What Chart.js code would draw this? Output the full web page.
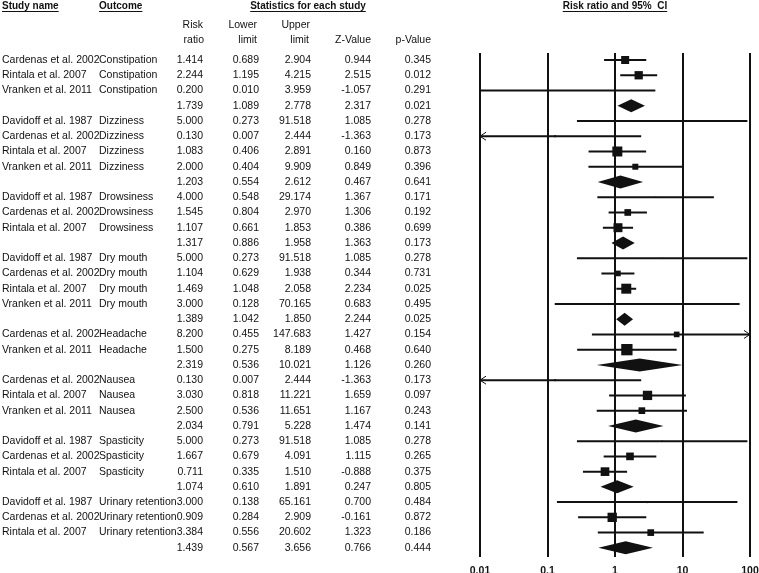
<!DOCTYPE html>
<html>
<head>
<meta charset="utf-8">
<script src="https://cdn.jsdelivr.net/npm/chart.js@4"></script>
<style>
  html, body { margin: 0; padding: 0; background: #fff; }
</style>
</head>
<body>
<canvas id="forest" width="759" height="573"></canvas>
<script>
// one entry per row, '' study name = summary row for the outcome
const studyNames = [
  'Cardenas et al. 2002', 'Rintala et al. 2007', 'Vranken et al. 2011', '',
  'Davidoff et al. 1987', 'Cardenas et al. 2002', 'Rintala et al. 2007', 'Vranken et al. 2011', '',
  'Davidoff et al. 1987', 'Cardenas et al. 2002', 'Rintala et al. 2007', '',
  'Davidoff et al. 1987', 'Cardenas et al. 2002', 'Rintala et al. 2007', 'Vranken et al. 2011', '',
  'Cardenas et al. 2002', 'Vranken et al. 2011', '',
  'Cardenas et al. 2002', 'Rintala et al. 2007', 'Vranken et al. 2011', '',
  'Davidoff et al. 1987', 'Cardenas et al. 2002', 'Rintala et al. 2007', '',
  'Davidoff et al. 1987', 'Cardenas et al. 2002', 'Rintala et al. 2007', ''
];
const outcomes = [
  'Constipation', 'Constipation', 'Constipation', '',
  'Dizziness', 'Dizziness', 'Dizziness', 'Dizziness', '',
  'Drowsiness', 'Drowsiness', 'Drowsiness', '',
  'Dry mouth', 'Dry mouth', 'Dry mouth', 'Dry mouth', '',
  'Headache', 'Headache', '',
  'Nausea', 'Nausea', 'Nausea', '',
  'Spasticity', 'Spasticity', 'Spasticity', '',
  'Urinary retention', 'Urinary retention', 'Urinary retention', ''
];
const riskRatio = [
  1.414, 2.244, 0.200, 1.739,
  5.000, 0.130, 1.083, 2.000, 1.203,
  4.000, 1.545, 1.107, 1.317,
  5.000, 1.104, 1.469, 3.000, 1.389,
  8.200, 1.500, 2.319,
  0.130, 3.030, 2.500, 2.034,
  5.000, 1.667, 0.711, 1.074,
  3.000, 0.909, 3.384, 1.439
];
const lowerLimit = [
  0.689, 1.195, 0.010, 1.089,
  0.273, 0.007, 0.406, 0.404, 0.554,
  0.548, 0.804, 0.661, 0.886,
  0.273, 0.629, 1.048, 0.128, 1.042,
  0.455, 0.275, 0.536,
  0.007, 0.818, 0.536, 0.791,
  0.273, 0.679, 0.335, 0.610,
  0.138, 0.284, 0.556, 0.567
];
const upperLimit = [
  2.904, 4.215, 3.959, 2.778,
  91.518, 2.444, 2.891, 9.909, 2.612,
  29.174, 2.970, 1.853, 1.958,
  91.518, 1.938, 2.058, 70.165, 1.850,
  147.683, 8.189, 10.021,
  2.444, 11.221, 11.651, 5.228,
  91.518, 4.091, 1.510, 1.891,
  65.161, 2.909, 20.602, 3.656
];
const zValue = [
  0.944, 2.515, -1.057, 2.317,
  1.085, -1.363, 0.160, 0.849, 0.467,
  1.367, 1.306, 0.386, 1.363,
  1.085, 0.344, 2.234, 0.683, 2.244,
  1.427, 0.468, 1.126,
  -1.363, 1.659, 1.167, 1.474,
  1.085, 1.115, -0.888, 0.247,
  0.700, -0.161, 1.323, 0.766
];
const pValue = [
  0.345, 0.012, 0.291, 0.021,
  0.278, 0.173, 0.873, 0.396, 0.641,
  0.171, 0.192, 0.699, 0.173,
  0.278, 0.731, 0.025, 0.495, 0.025,
  0.154, 0.640, 0.260,
  0.173, 0.097, 0.243, 0.141,
  0.278, 0.265, 0.375, 0.805,
  0.484, 0.872, 0.186, 0.444
];
// relative study weights (square area)
const weights = [
  50, 54, 1, null,
  3, 3, 78, 28, null,
  1, 35, 63, null,
  1, 25, 78, 1, null,
  25, 100, null,
  3, 68, 35, null,
  1, 46, 59, null,
  3, 68, 35, null
];
const xTicks = [0.01, 0.1, 1, 10, 100];

const ink = '#111';
const bodyFont = "10.5px 'Liberation Sans', Arial, sans-serif";
const headFont = "bold 10px 'Liberation Sans', Arial, sans-serif";

const rows = riskRatio.map((v, i) => i);
const studyRows = rows.filter(i => studyNames[i] !== '');
const summaryRows = rows.filter(i => studyNames[i] === '');

const squares = studyRows.map(i => ({ x: riskRatio[i], y: i }));
const squareRadius = studyRows.map(i => 11.3 * Math.sqrt(weights[i] / 100) / 1.414);
const ciLines = [];
studyRows.forEach(i => {
  ciLines.push({ x: lowerLimit[i], y: i }, { x: upperLimit[i], y: i }, { x: null, y: null });
});

const forestPlugin = {
  id: 'forest',
  afterDatasetsDraw(chart) {
    const { ctx, chartArea } = chart;
    const xs = chart.scales.x, ys = chart.scales.y;
    ctx.save();
    ctx.fillStyle = ink;
    ctx.strokeStyle = ink;
    // summary diamonds
    summaryRows.forEach(i => {
      const py = ys.getPixelForValue(i);
      ctx.beginPath();
      ctx.moveTo(xs.getPixelForValue(lowerLimit[i]), py);
      ctx.lineTo(xs.getPixelForValue(riskRatio[i]), py - 6.5);
      ctx.lineTo(xs.getPixelForValue(upperLimit[i]), py);
      ctx.lineTo(xs.getPixelForValue(riskRatio[i]), py + 6.5);
      ctx.closePath();
      ctx.fill();
    });
    // arrows where the interval runs past the axis
    ctx.lineWidth = 1;
    studyRows.forEach(i => {
      const py = ys.getPixelForValue(i);
      if (lowerLimit[i] < xs.min) {
        ctx.beginPath();
        ctx.moveTo(chartArea.left + 6, py - 4);
        ctx.lineTo(chartArea.left, py);
        ctx.lineTo(chartArea.left + 6, py + 4);
        ctx.stroke();
      }
      if (upperLimit[i] > xs.max) {
        ctx.beginPath();
        ctx.moveTo(chartArea.right - 6, py - 4);
        ctx.lineTo(chartArea.right, py);
        ctx.lineTo(chartArea.right - 6, py + 4);
        ctx.stroke();
      }
    });
    ctx.restore();
  },
  afterDraw(chart) {
    const { ctx } = chart;
    const ys = chart.scales.y;
    ctx.save();
    ctx.fillStyle = ink;
    ctx.strokeStyle = ink;

    // underlined headings
    const heading = (text, x, align) => {
      ctx.font = headFont;
      ctx.textAlign = align;
      ctx.textBaseline = 'alphabetic';
      ctx.fillText(text, x, 9);
      const w = ctx.measureText(text).width;
      const x0 = align === 'center' ? x - w / 2 : x;
      ctx.lineWidth = 1;
      ctx.beginPath();
      ctx.moveTo(x0, 11.5);
      ctx.lineTo(x0 + w, 11.5);
      ctx.stroke();
    };
    heading('Study name', 2, 'left');
    heading('Outcome', 99, 'left');
    heading('Statistics for each study', 308, 'center');
    heading('Risk ratio and 95%  CI', 615, 'center');

    ctx.font = bodyFont;
    ctx.textBaseline = 'middle';
    ctx.textAlign = 'right';
    ctx.fillText('Risk', 203, 25);
    ctx.fillText('ratio', 204, 40);
    ctx.fillText('Lower', 257, 25);
    ctx.fillText('limit', 257, 40);
    ctx.fillText('Upper', 310, 25);
    ctx.fillText('limit', 309, 40);
    ctx.fillText('Z-Value', 371, 40);
    ctx.fillText('p-Value', 431, 40);

    rows.forEach(i => {
      const py = ys.getPixelForValue(i);
      ctx.textAlign = 'left';
      ctx.fillText(studyNames[i], 2, py);
      ctx.fillText(outcomes[i], 99, py);
      ctx.textAlign = 'right';
      ctx.fillText(riskRatio[i].toFixed(3), 203, py);
      ctx.fillText(lowerLimit[i].toFixed(3), 259, py);
      ctx.fillText(upperLimit[i].toFixed(3), 311, py);
      ctx.fillText(zValue[i].toFixed(3), 371, py);
      ctx.fillText(pValue[i].toFixed(3), 431, py);
    });
    ctx.restore();
  }
};

new Chart(document.getElementById('forest'), {
  type: 'scatter',
  data: {
    datasets: [
      {
        data: squares,
        pointStyle: 'rect',
        pointRadius: squareRadius,
        backgroundColor: ink,
        borderWidth: 0
      },
      {
        data: ciLines,
        showLine: true,
        pointRadius: 0,
        borderColor: ink,
        borderWidth: 2,
        spanGaps: false
      }
    ]
  },
  options: {
    responsive: false,
    devicePixelRatio: 1,
    animation: false,
    layout: { padding: { left: 480, right: 9, top: 53, bottom: 0 } },
    plugins: { legend: { display: false }, tooltip: { enabled: false } },
    scales: {
      x: {
        type: 'logarithmic',
        min: 0.01,
        max: 100,
        afterBuildTicks: s => { s.ticks = xTicks.map(v => ({ value: v })); },
        afterFit: s => { s.height = 16; s.paddingLeft = 0; s.paddingRight = 0; },
        ticks: {
          autoSkip: false,
          maxRotation: 0,
          padding: 8,
          color: ink,
          font: { family: "'Liberation Sans', Arial, sans-serif", size: 10.5, weight: 'bold' },
          callback: v => String(v)
        },
        grid: { color: ink, lineWidth: 2, drawTicks: false },
        border: { display: false }
      },
      y: {
        type: 'linear',
        display: false,
        reverse: true,
        min: -0.46,
        max: 32.6
      }
    }
  },
  plugins: [forestPlugin]
});
</script>
</body>
</html>
